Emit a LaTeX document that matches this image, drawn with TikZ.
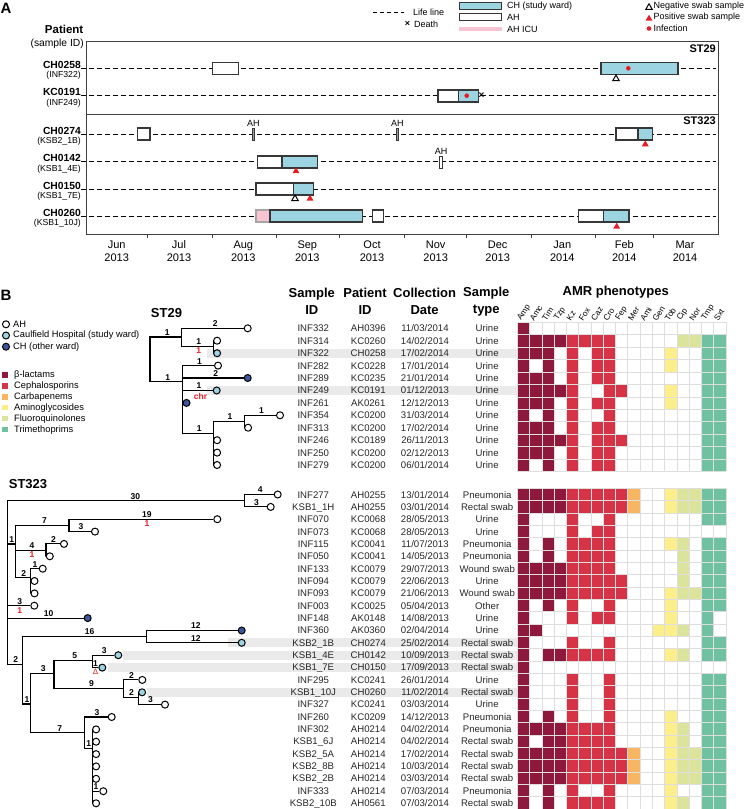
\documentclass[tikz,border=0pt]{standalone}
\usepackage{fontspec}
\setmainfont{Liberation Sans}
\usetikzlibrary{shapes.geometric}
\definecolor{chblue}{RGB}{157,212,225}
\definecolor{chdark}{RGB}{60,86,156}
\definecolor{icupink}{RGB}{246,196,211}
\definecolor{infred}{RGB}{232,28,36}
\definecolor{amrbeta}{RGB}{142,25,60}
\definecolor{amrceph}{RGB}{214,52,70}
\definecolor{amrcarb}{RGB}{248,181,98}
\definecolor{amramino}{RGB}{253,238,140}
\definecolor{amrfluo}{RGB}{219,228,154}
\definecolor{amrtmp}{RGB}{111,193,161}
\definecolor{rowgrey}{RGB}{234,234,234}
\definecolor{gridgrey}{RGB}{222,222,222}
\definecolor{staygrey}{RGB}{55,55,55}
\colorlet{amr1}{amrbeta}\colorlet{amr2}{amrbeta}\colorlet{amr3}{amrbeta}\colorlet{amr4}{amrbeta}
\colorlet{amr5}{amrceph}\colorlet{amr6}{amrceph}\colorlet{amr7}{amrceph}\colorlet{amr8}{amrceph}\colorlet{amr9}{amrceph}
\colorlet{amr10}{amrcarb}
\colorlet{amr11}{amramino}\colorlet{amr12}{amramino}\colorlet{amr13}{amramino}
\colorlet{amr14}{amrfluo}\colorlet{amr15}{amrfluo}
\colorlet{amr16}{amrtmp}\colorlet{amr17}{amrtmp}

\begin{document}
\begin{tikzpicture}[x=1pt, y=-1pt,
    panel/.style={font=\bfseries\fontsize{15}{15}\selectfont, inner sep=0pt},
    legtxt/.style={font=\fontsize{9}{9}\selectfont, anchor=west, inner sep=0pt},
    pname/.style={font=\bfseries\fontsize{10.3}{11}\selectfont, anchor=base east, inner sep=0pt},
    psample/.style={font=\fontsize{8.7}{9}\selectfont, anchor=north east, inner sep=0pt},
    lifeline/.style={dash pattern=on 5pt off 3pt, line width=0.6pt},
    stay/.style={draw=staygrey, line width=1.6pt},
    ahbar/.style={draw=staygrey, fill=staygrey!50, line width=0.9pt},
    ahtxt/.style={font=\fontsize{9}{9}\selectfont, inner sep=0pt},
    negswab/.style={regular polygon, regular polygon sides=3, draw=black, fill=white, line width=1pt, minimum size=7.5pt, inner sep=0pt},
    posswab/.style={regular polygon, regular polygon sides=3, fill=infred, minimum size=8pt, inner sep=0pt},
    infdot/.style={circle, fill=infred, minimum size=4.6pt, inner sep=0pt},
    month/.style={font=\fontsize{11}{13}\selectfont, align=center, inner sep=0pt},
    tip/.style={circle, draw=black, line width=1pt, fill=white, minimum size=7pt, inner sep=0pt},
    tipch/.style={tip, fill=chblue},
    tipother/.style={tip, fill=chdark},
    branch/.style={line width=1.1pt},
    blen/.style={font=\bfseries\fontsize{8.5}{8.5}\selectfont, above, inner sep=1pt, pos=0.77},
    snp/.style={font=\bfseries\fontsize{8.5}{8.5}\selectfont, text=infred, below, inner sep=1pt, pos=0.77},
    stlabel/.style={font=\bfseries\fontsize{13}{13}\selectfont, inner sep=0pt},
    head/.style={font=\bfseries\fontsize{13}{17}\selectfont, align=center, inner sep=0pt},
    cell/.style={font=\fontsize{9.6}{10}\selectfont, text=black!85, inner sep=0pt, text height=7pt, text depth=0pt},
    drug/.style={font=\fontsize{8.2}{8.2}\selectfont, rotate=57, anchor=west, inner sep=0pt},
    classbox/.style={fill=#1, minimum size=5.5pt, inner sep=0pt}
  ]
\useasboundingbox (0,0) rectangle (744,809);

\node[panel] (lblA) at (6,8) {A};
\coordinate (ll0) at (373.3,12.7);
\coordinate (ll1) at (404,12.7);
\draw[lifeline, dash pattern=on 4pt off 3pt] (ll0) -- (ll1);
\node[legtxt] (tLife) at (413,12.7) {Life line};
\node[font=\bfseries\fontsize{9}{9}\selectfont, inner sep=0pt] (xDeath) at (407.5,24) {×};
\node[legtxt] (tDeath) at (414,24) {Death};
\filldraw[stay, fill=chblue, line width=1.3pt] (459.3,2.7) rectangle (501.7,9.3);
\node[legtxt] (tCH) at (507,6) {CH (study ward)};
\filldraw[stay, fill=white, line width=1.3pt] (459.3,13.7) rectangle (501.7,20.3);
\node[legtxt] (tAH) at (507,17.3) {AH};
\fill[icupink] (459.3,26.7) rectangle (501.7,30.7);
\node[legtxt] (tICU) at (507,29) {AH ICU};
\node[negswab] (kNeg) at (649,7.5) {};
\node[legtxt] (tNeg) at (653.5,6.5) {Negative swab sample};
\node[posswab] (kPos) at (649,18.7) {};
\node[legtxt] (tPos) at (653.5,17.5) {Positive swab sample};
\node[infdot] (kInf) at (649,28.5) {};
\node[legtxt] (tInf) at (653.5,28.5) {Infection};

\node[font=\bfseries\fontsize{11.5}{12}\selectfont, anchor=east, inner sep=0pt] (hPatient) at (83.5,29) {Patient};
\node[font=\fontsize{10.3}{11}\selectfont, anchor=east, inner sep=0pt] (hSample) at (84,44) {(sample ID)};
\draw[line width=0.8pt, black!75] (86,41.7) rectangle (718.3,234);
\draw[line width=0.8pt, black!75] (86,114) -- (718.3,114);
\node[font=\bfseries\fontsize{11}{11}\selectfont, anchor=east, inner sep=0pt] (st29a) at (716,48.5) {ST29};
\node[font=\bfseries\fontsize{11}{11}\selectfont, anchor=east, inner sep=0pt] (st323a) at (716,121) {ST323};

\foreach \pid/\sid/\yy [count=\k] in {CH0258/INF322/68.3, KC0191/INF249/95.7, CH0274/KSB2\_1B/134, CH0142/KSB1\_4E/161.7, CH0150/KSB1\_7E/189, CH0260/KSB1\_10J/216}{
  \node[pname] (pat\k) at (81,\yy) {\pid};
  \node[psample] (psid\k) at (81,{\yy+3}) {(\sid)};
  \coordinate (end\k) at (716,\yy);
  \draw[lifeline] (pat\k.base east) -- (end\k);
}

\filldraw[stay, fill=white] (212.3,62.3) rectangle (238.3,74.3);
\filldraw[stay, fill=chblue] (601,62.3) rectangle (677.7,74.3);
\node[infdot] (inf1) at (628.3,68.3) {};
\node[negswab] (neg1) at (616,78.8) {};

\filldraw[stay, fill=white] (437.7,89.7) rectangle (458.3,101.7);
\filldraw[stay, fill=chblue] (458.3,89.7) rectangle (478.3,101.7);
\node[infdot] (inf2) at (466.7,95.7) {};
\node[font=\bfseries\fontsize{10}{10}\selectfont, inner sep=0pt] (death2) at (481.5,95.7) {×};

\filldraw[stay, fill=white] (137.3,128) rectangle (150,140);
\filldraw[ahbar] (252.1,128) rectangle (254.5,140);
\node[ahtxt] (ah3a) at (253.3,123.3) {AH};
\filldraw[ahbar] (396.1,128) rectangle (398.5,140);
\node[ahtxt] (ah3b) at (397.3,123.5) {AH};
\filldraw[stay, fill=white] (616,128) rectangle (637.7,140);
\filldraw[stay, fill=chblue] (637.7,128) rectangle (652.3,140);
\node[posswab] (pos3) at (645.3,144.3) {};

\filldraw[stay, fill=white] (257.3,155.7) rectangle (282,167.7);
\filldraw[stay, fill=chblue] (282,155.7) rectangle (317.3,167.7);
\node[posswab] (pos4) at (296,171.2) {};
\filldraw[ahbar, fill=white] (439.6,156) rectangle (442.4,168);
\node[ahtxt] (ah4) at (441,151) {AH};

\filldraw[stay, fill=white] (255.7,183) rectangle (293.3,195);
\filldraw[stay, fill=chblue] (293.3,183) rectangle (313.3,195);
\node[negswab] (neg5) at (295,198.7) {};
\node[posswab] (pos5) at (310,198.7) {};

\filldraw[stay, draw=gray!70, fill=icupink] (255.7,210) rectangle (270,222);
\filldraw[stay, fill=chblue] (270,210) rectangle (362.3,222);
\filldraw[stay, fill=white] (372.3,210) rectangle (383.3,222);
\filldraw[stay, fill=white] (578.3,210) rectangle (603.3,222);
\filldraw[stay, fill=chblue] (603.3,210) rectangle (629,222);
\node[posswab] (pos6) at (616.7,226.7) {};

\foreach \tx in {147.7,212.3,276.7,339.3,404.3,466.7,531,595.7,653.7}
  \draw[line width=0.8pt, black!75] (\tx,234) -- (\tx,238);
\foreach \mx/\mn/\my in {116.7/Jun/2013, 179/Jul/2013, 243.3/Aug/2013, 307.3/Sep/2013, 372/Oct/2013, 435.7/Nov/2013, 497.7/Dec/2013, 562.3/Jan/2014, 624.3/Feb/2014, 685/Mar/2014}
  \node[month] (mo-\mn-\my) at (\mx,251) {\mn\\\my};

\node[panel] (lblB) at (6,295) {B};
\node[tip] (kAH) at (6,324.3) {};
\node[legtxt, font=\fontsize{9.3}{9.3}\selectfont] (tkAH) at (13,324.3) {AH};
\node[tipch] (kCH) at (6,335.5) {};
\node[legtxt, font=\fontsize{9.3}{9.3}\selectfont] (tkCH) at (13,335.5) {Caulfield Hospital (study ward)};
\node[tipother] (kOther) at (6,346.7) {};
\node[legtxt, font=\fontsize{9.3}{9.3}\selectfont] (tkOther) at (13,346.7) {CH (other ward)};
\foreach \cl/\ct/\cy in {amrbeta/β-lactams/375, amrceph/Cephalosporins/386, amrcarb/Carbapenems/397, amramino/Aminoglycosides/407.7, amrfluo/Fluoroquinolones/418.7, amrtmp/Trimethoprims/429.7}{
  \node[classbox=\cl] (k-\cl) at (5,\cy) {};
  \node[legtxt, font=\fontsize{9.3}{9.3}\selectfont] (t-\cl) at (14,\cy) {\ct};
}

\node[stlabel] (st29) at (166.5,313.5) {ST29};
\node[stlabel] (st323) at (28,484.3) {ST323};

\foreach \bx/\by in {206.7/353.2, 206.7/390.5, 228.3/642.8, 123.3/655.2, 108.3/667.6, 146.7/692.3}
  \fill[rowgrey] (\bx,{\by-4.6}) rectangle (517.3,{\by+4.6});

\node[head] (hSid) at (311.8,301.5) {Sample\\ID};
\node[head] (hPid) at (365,301.5) {Patient\\ID};
\node[head] (hDate) at (424.6,301.5) {Collection\\Date};
\node[head] (hType) at (486.3,301.5) {Sample\\type};
\node[head] (hAmr) at (615.7,292.5) {AMR phenotypes};

\foreach \sid/\pid/\dd/\mm/\yy/\stype [count=\i] in {INF332/AH0396/11/03/2014/Urine, INF314/KC0260/14/02/2014/Urine, INF322/CH0258/17/02/2014/Urine, INF282/KC0228/17/01/2014/Urine, INF289/KC0235/21/01/2014/Urine, INF249/KC0191/01/12/2013/Urine, INF261/AK0261/12/12/2013/Urine, INF354/KC0200/31/03/2014/Urine, INF313/KC0200/17/02/2014/Urine, INF246/KC0189/26/11/2013/Urine, INF250/KC0200/02/12/2013/Urine, INF279/KC0200/06/01/2014/Urine}{
  \node[cell] (a-sid\i) at (313.3,{328.3+(\i-1)*12.43}) {\sid};
  \node[cell] (a-pid\i) at (368.3,{328.3+(\i-1)*12.43}) {\pid};
  \node[cell] (a-date\i) at (425,{328.3+(\i-1)*12.43}) {\dd/\mm/\yy};
  \node[cell] (a-type\i) at (487.2,{328.3+(\i-1)*12.43}) {\stype};
}
\foreach \sid/\pid/\dd/\mm/\yy/\stype [count=\i] in {INF277/AH0255/13/01/2014/Pneumonia, KSB1\_1H/AH0255/03/01/2014/Rectal swab, INF070/KC0068/28/05/2013/Urine, INF073/KC0068/28/05/2013/Urine, INF115/KC0041/11/07/2013/Pneumonia, INF050/KC0041/14/05/2013/Pneumonia, INF133/KC0079/29/07/2013/Wound swab, INF094/KC0079/22/06/2013/Urine, INF093/KC0079/21/06/2013/Wound swab, INF003/KC0025/05/04/2013/Other, INF148/AK0148/14/08/2013/Urine, INF360/AK0360/02/04/2014/Urine, KSB2\_1B/CH0274/25/02/2014/Rectal swab, KSB1\_4E/CH0142/10/09/2013/Rectal swab, KSB1\_7E/CH0150/17/09/2013/Rectal swab, INF295/KC0241/26/01/2014/Urine, KSB1\_10J/CH0260/11/02/2014/Rectal swab, INF327/KC0241/03/03/2014/Urine, INF260/KC0209/14/12/2013/Pneumonia, INF302/AH0214/04/02/2014/Pneumonia, KSB1\_6J/AH0214/04/02/2014/Rectal swab, KSB2\_5A/AH0214/17/02/2014/Rectal swab, KSB2\_8B/AH0214/10/03/2014/Rectal swab, KSB2\_2B/AH0214/03/03/2014/Rectal swab, INF333/AH0214/07/03/2014/Pneumonia, KSB2\_10B/AH0561/07/03/2014/Rectal swab}{
  \node[cell] (b-sid\i) at (313.3,{494.5+(\i-1)*12.34}) {\sid};
  \node[cell] (b-pid\i) at (368.3,{494.5+(\i-1)*12.34}) {\pid};
  \node[cell] (b-date\i) at (425,{494.5+(\i-1)*12.34}) {\dd/\mm/\yy};
  \node[cell] (b-type\i) at (487.2,{494.5+(\i-1)*12.34}) {\stype};
}

\foreach \drug [count=\j] in {Amp,Amc,Tim,Tzp,Kz,Fox,Caz,Cro,Fep,Mer,Ami,Gen,Tob,Cip,Nor,Tmp,Sxt}
  \node[drug] (drug\j) at ({517.3+(\j-1)*12.28+2},320) {\drug};

\foreach \cells [count=\i] in {{1},{1,2,3,4,5,6,7,8,14,15,16,17},{1,2,3,5,7,8,13,16,17},{1,3,5,7,8,13,16,17},{1,2,3,5,7,8,16,17},{1,2,3,4,5,8,9,13,16,17},{1,2,3,5,7,8,13,16,17},{1,3,5,8,16,17},{1,2,3,5,7,8,16,17},{1,2,3,4,5,7,8,9,16,17},{1,2,3,5,7,8,16,17},{1,3,5,7,8,16,17}}
  \foreach \c in \cells
    \fill[fill=amr\c] ({517.3+(\c-1)*12.28},{322.3+(\i-1)*12.43}) rectangle ++(12.28,12.43);
\foreach \c in {0,...,17}
  \draw[gridgrey, line width=0.7pt] ({517.3+\c*12.28},322.3) -- ++(0,149.16);
\foreach \r in {0,...,12}
  \draw[gridgrey, line width=0.7pt] (517.3,{322.3+\r*12.43}) -- ++(208.76,0);

\foreach \cells [count=\i] in {{1,2,3,4,5,6,7,8,9,10,13,14,15,16,17},{1,2,3,4,5,6,7,8,9,10,13,14,15,16,17},{1,5,8,16,17},{1,5,7,8},{1,3,5,6,7,8,13,14,16,17},{1,3,5,6,7,8,14,16,17},{1,2,3,4,5,6,7,8,14,16,17},{1,2,3,4,5,6,7,8,9,14,16,17},{1,2,3,4,5,6,7,8,9,13,14,15,16,17},{1,3,5,8,13,16,17},{1,5,7,8,13,16},{1,2,12,13,14,16},{1,5,8,16,17},{1,3,4,5,6,7,8,13,14,16,17},{1},{1,5,8,16,17},{1,5,8,16,17},{1,5,8,16,17},{1,3,5,8,13,16,17},{1,2,3,4,5,6,7,8,13,14,16,17},{1,3,4,5,6,7,8,13,14,16,17},{1,2,3,4,5,6,7,8,9,10,13,14,15,16,17},{1,2,3,4,5,6,7,8,9,10,13,14,15,16,17},{1,2,3,4,5,6,7,8,9,10,13,14,15,16,17},{1,3,5,8,13,16,17},{1,3,5,6,7,8,13,14,16,17}}
  \foreach \c in \cells
    \fill[fill=amr\c] ({517.3+(\c-1)*12.28},{488.3+(\i-1)*12.34}) rectangle ++(12.28,12.34);
\foreach \c in {0,...,17}
  \draw[gridgrey, line width=0.7pt] ({517.3+\c*12.28},488.3) -- ++(0,320.84);
\foreach \r in {0,...,26}
  \draw[gridgrey, line width=0.7pt] (517.3,{488.3+\r*12.34}) -- ++(208.76,0);

\coordinate (r29) at (150,359);
\coordinate (n1) at (181.7,337);
\coordinate (n2) at (213.3,346.5);
\coordinate (n3) at (182.7,381.7);
\coordinate (n4) at (213.3,433.5);
\coordinate (n5) at (244.3,421.5);
\node[tip] (s1) at (247.7,328.3) {};
\node[tip] (s2) at (217.1,340.7) {};
\node[tipch] (s3) at (217.1,353.2) {};
\node[tip] (s4) at (218,365.6) {};
\node[tipother] (s5) at (247.7,378) {};
\node[tipch] (s6) at (216.7,390.5) {};
\node[tipother] (s7) at (186.5,402.9) {};
\node[tip] (s8) at (280,415.3) {};
\node[tip] (s9) at (248.1,427.7) {};
\node[tip] (s10) at (217.1,440.2) {};
\node[tip] (s11) at (217.1,452.6) {};
\node[tip] (s12) at (217.1,465) {};
\draw[branch] (r29) |- (n1) node[blen]{1};
\draw[branch] (r29) |- (n3) node[blen]{1};
\draw[branch] (n1) |- (s1) node[blen]{2};
\draw[branch] (n1) |- (n2) node[blen]{1} node[snp]{1};
\draw[branch] (n2) |- (s2);
\draw[branch] (n2) |- (s3);
\draw[branch] (n3) |- (s4) node[blen]{1};
\draw[branch] (n3) |- (s5) node[blen]{2};
\draw[branch] (n3) |- (s6) node[blen]{1};
\draw[branch] (n3) |- (s7);
\draw[branch] (n3) |- (n4) node[blen]{1};
\draw[branch] (n4) |- (n5) node[blen]{1};
\draw[branch] (n5) |- (s8) node[blen]{1};
\draw[branch] (n5) |- (s9);
\draw[branch] (n4) |- (s10);
\draw[branch] (n4) |- (s11);
\draw[branch] (n4) |- (s12);
\node[font=\bfseries\fontsize{8.5}{8.5}\selectfont, text=infred, inner sep=0pt] (chr) at (200.5,396.5) {chr};

\coordinate (r323) at (7.3,582);
\coordinate (m1) at (244.3,500.7);
\coordinate (m2) at (15.7,544);
\coordinate (m3) at (69,525.4);
\coordinate (m4) at (46,550.1);
\coordinate (m5) at (30.7,577.7);
\coordinate (m6) at (22.7,664.3);
\coordinate (m7) at (146.7,636.6);
\coordinate (m8) at (30.7,704);
\coordinate (m9) at (54,673.3);
\coordinate (m10) at (92.3,660.5);
\coordinate (m11) at (123.3,688.3);
\coordinate (m12) at (138.3,697.5);
\coordinate (m13) at (84.3,732.7);
\coordinate (m14) at (92.3,748.3);
\node[tip] (u1) at (277.7,494.5) {};
\node[tip] (u2) at (270.7,506.9) {};
\node[tip] (u3) at (217.3,519.2) {};
\node[tip] (u4) at (95,531.6) {};
\node[tip] (u5) at (64,543.9) {};
\node[tip] (u6) at (49.8,556.3) {};
\node[tip] (u7) at (42.7,568.7) {};
\node[tip] (u8) at (34.5,581) {};
\node[tip] (u9) at (34.5,593.4) {};
\node[tip] (u10) at (34.3,605.7) {};
\node[tipother] (u11) at (87.7,618.1) {};
\node[tipother] (u12) at (241.7,630.5) {};
\node[tipch] (u13) at (241.7,642.8) {};
\node[tipch] (u14) at (118.3,655.2) {};
\node[tipch] (u15) at (102.3,667.6) {};
\node[tip] (u16) at (142.3,679.9) {};
\node[tipch] (u17) at (142.1,692.3) {};
\node[tip] (u18) at (165,704.6) {};
\node[tip] (u19) at (111.7,717) {};
\node[tip] (u20) at (96.1,729.4) {};
\node[tip] (u21) at (96.1,741.7) {};
\node[tip] (u22) at (96.1,754.1) {};
\node[tip] (u23) at (96.1,766.4) {};
\node[tip] (u24) at (96.1,778.8) {};
\node[tip] (u25) at (103.3,791.2) {};
\node[tip] (u26) at (96.1,803.3) {};
\draw[branch] (r323) |- (m1) node[blen]{30};
\draw[branch] (m1) |- (u1) node[blen]{4};
\draw[branch] (m1) |- (u2) node[blen]{3};
\draw[branch] (r323) |- (m2) node[blen]{1};
\draw[branch] (m2) |- (m3) node[blen]{7};
\draw[branch] (m3) |- (u3) node[blen]{19} node[snp]{1};
\draw[branch] (m3) |- (u4) node[blen]{3};
\draw[branch] (m2) |- (m4) node[blen]{4} node[snp]{1};
\draw[branch] (m4) |- (u5) node[blen]{2};
\draw[branch] (m4) |- (u6);
\draw[branch] (m2) |- (m5) node[blen]{2};
\draw[branch] (m5) |- (u7) node[blen]{1};
\draw[branch] (m5) |- (u8);
\draw[branch] (m5) |- (u9);
\draw[branch] (r323) |- (u10) node[blen]{3} node[snp]{1};
\draw[branch] (r323) |- (u11) node[blen]{10};
\draw[branch] (r323) |- (m6) node[blen]{2};
\draw[branch] (m6) |- (m7) node[blen]{16};
\draw[branch] (m7) |- (u12) node[blen]{12};
\draw[branch] (m7) |- (u13) node[blen]{12};
\draw[branch] (m6) |- (m8) node[blen]{1};
\draw[branch] (m8) |- (m9) node[blen]{3};
\draw[branch] (m9) |- (m10) node[blen]{5};
\draw[branch] (m10) |- (u14) node[blen]{3};
\draw[branch] (m10) |- (u15) node[blen]{1} node[snp, font=\fontsize{8}{8}\selectfont]{Δ};
\draw[branch] (m9) |- (m11) node[blen]{9};
\draw[branch] (m11) |- (u16) node[blen]{2};
\draw[branch] (m11) |- (m12) node[blen]{2};
\draw[branch] (m12) |- (u17);
\draw[branch] (m12) |- (u18) node[blen]{3};
\draw[branch] (m8) |- (m13) node[blen]{7};
\draw[branch] (m13) |- (u19) node[blen]{3};
\draw[branch] (m13) |- (m14) node[blen]{1};
\foreach \t in {20,...,24,26}
  \draw[branch] (m14) |- (u\t);
\draw[branch] (m14) |- (u25) node[blen]{1};
\end{tikzpicture}
\end{document}
